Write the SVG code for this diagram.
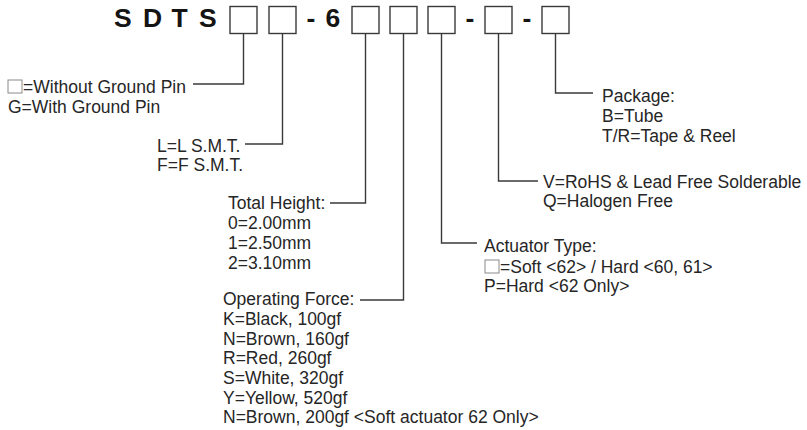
<svg xmlns="http://www.w3.org/2000/svg" width="807" height="430" viewBox="0 0 807 430">
<style>
.t{font-family:"Liberation Sans",Arial,sans-serif;font-size:17.5px;fill:#262626}
.h{font-family:"Liberation Sans",Arial,sans-serif;font-size:26.5px;font-weight:bold;fill:#141414}
.b{fill:#fff;stroke:#3a3a3a;stroke-width:1.4}
.sb{fill:#fff;stroke:#8a8a8a;stroke-width:1}
.c{fill:none;stroke:#3a3a3a;stroke-width:1.4}
</style>
<rect width="807" height="430" fill="#fff"/>
<g id="code">
<text class="h" x="114" y="27">S</text>
<text class="h" x="143" y="27">D</text>
<text class="h" x="171.5" y="27">T</text>
<text class="h" x="199" y="27">S</text>
<rect class="b" x="230" y="6.5" width="27" height="27"/>
<rect class="b" x="269" y="6.5" width="27" height="27"/>
<text class="h" x="306.5" y="27">-</text>
<text class="h" x="325.5" y="27">6</text>
<rect class="b" x="352" y="6.5" width="27" height="27"/>
<rect class="b" x="390" y="6.5" width="27" height="27"/>
<rect class="b" x="428" y="6.5" width="27" height="27"/>
<text class="h" x="465.5" y="27">-</text>
<rect class="b" x="485" y="6.5" width="27" height="27"/>
<text class="h" x="522.5" y="27">-</text>
<rect class="b" x="542" y="6.5" width="27" height="27"/>
</g>
<g id="connectors">
<polyline class="c" points="243.5,33.5 243.5,84 193,84"/>
<polyline class="c" points="282.5,33.5 282.5,144 245,144"/>
<polyline class="c" points="365.5,33.5 365.5,203 330,203"/>
<polyline class="c" points="403.5,33.5 403.5,300 360,300"/>
<polyline class="c" points="441.5,33.5 441.5,243 477,243"/>
<polyline class="c" points="498.5,33.5 498.5,181 538,181"/>
<polyline class="c" points="555.5,33.5 555.5,93 593,93"/>
</g>
<g id="ground-pin">
<rect class="sb" x="8" y="80" width="14" height="13"/>
<text class="t" x="23" y="93">=Without Ground Pin</text>
<text class="t" x="8" y="113">G=With Ground Pin</text>
</g>
<g id="smt">
<text class="t" x="157" y="152">L=L S.M.T.</text>
<text class="t" x="157" y="171">F=F S.M.T.</text>
</g>
<g id="total-height">
<text class="t" x="228" y="209">Total Height:</text>
<text class="t" x="228" y="229">0=2.00mm</text>
<text class="t" x="228" y="249">1=2.50mm</text>
<text class="t" x="228" y="269">2=3.10mm</text>
</g>
<g id="operating-force">
<text class="t" x="223" y="305">Operating Force:</text>
<text class="t" x="223" y="325">K=Black, 100gf</text>
<text class="t" x="223" y="344.5">N=Brown, 160gf</text>
<text class="t" x="223" y="364">R=Red, 260gf</text>
<text class="t" x="223" y="384">S=White, 320gf</text>
<text class="t" x="223" y="403.5">Y=Yellow, 520gf</text>
<text class="t" x="223" y="423">N=Brown, 200gf &lt;Soft actuator 62 Only&gt;</text>
</g>
<g id="actuator-type">
<text class="t" x="484" y="252">Actuator Type:</text>
<rect class="sb" x="485" y="260" width="14" height="13"/>
<text class="t" x="500" y="273">=Soft &lt;62&gt; / Hard &lt;60, 61&gt;</text>
<text class="t" x="484" y="292">P=Hard &lt;62 Only&gt;</text>
</g>
<g id="rohs">
<text class="t" x="543" y="188">V=RoHS &amp; Lead Free Solderable</text>
<text class="t" x="543" y="207">Q=Halogen Free</text>
</g>
<g id="package">
<text class="t" x="602" y="102">Package:</text>
<text class="t" x="602" y="122">B=Tube</text>
<text class="t" x="602" y="142">T/R=Tape &amp; Reel</text>
</g>
</svg>
